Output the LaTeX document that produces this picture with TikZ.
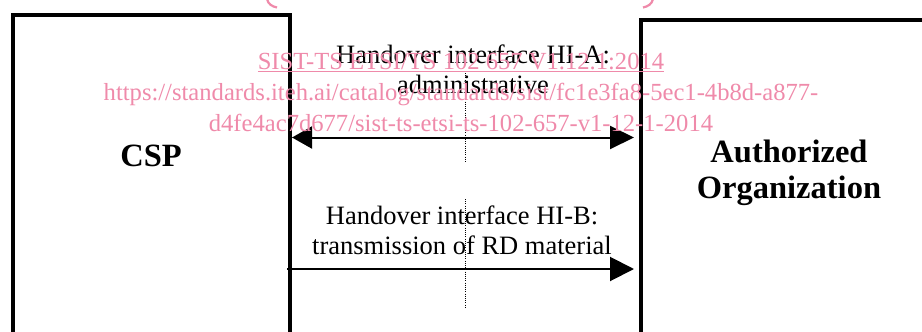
\documentclass[tikz,border=0pt]{standalone}
\usepackage{fontspec}
\setmainfont{Liberation Serif}
\usetikzlibrary{arrows.meta}
\definecolor{wmpink}{RGB}{239,138,170}
\begin{document}
\begin{tikzpicture}[x=1pt,y=-1pt,
  box/.style={draw, line width=4pt, anchor=north west, inner sep=0pt, outer sep=0pt},
  lbl/.style={align=center, inner sep=0pt, font=\fontsize{26.5}{30}\selectfont},
  title/.style={align=center, inner sep=0pt, font=\bfseries\fontsize{32.5}{35.5}\selectfont},
  conn/.style={draw, line width=2pt},
  tipL/.style={Triangle[length=21pt,width=22pt]},
  dotline/.style={line width=1pt, dash pattern=on 1pt off 1.2pt},
  wm/.style={text=wmpink, inner sep=0pt, font=\fontsize{24.6}{31}\selectfont}]
\useasboundingbox (0,0) rectangle (922,332);
\clip (0,0) rectangle (922,332);

% boxes
\node[box, minimum width=277pt, minimum height=405pt] (csp) at (13,15) {};
\node[box, minimum width=320pt, minimum height=400pt] (ao) at (641,19.5) {};

% box titles
\node[title] (cspT) at (151,156) {CSP};
\node[title] (aoT) at (789,173) {Authorized\\Organization};

% interface labels
\node[lbl] (hiA) at (473,69) {Handover interface HI-A:\\administrative};
\node[lbl] (hiB) at (462,230) {Handover interface HI-B:\\transmission of RD material};

% arrows
\coordinate (aY) at (0,137.5);
\coordinate (bY) at (0,269);
\draw[conn, {Triangle[length=20pt,width=22pt]}-{Triangle[length=24pt,width=23pt]}]
  ([xshift=2pt]csp.east |- aY) -- ([xshift=-7pt]ao.west |- aY);
\draw[conn, -{Triangle[length=24pt,width=24pt]}]
  ([xshift=-3pt]csp.east |- bY) -- ([xshift=-7pt]ao.west |- bY);

% dotted interface line
\coordinate (d1) at (465,73);
\coordinate (d2) at (465,163);
\coordinate (d3) at (465,199);
\coordinate (d4) at (465,308);
\draw[dotline] (d1) -- (d2);
\draw[dotline] (d3) -- (d4);

% watermark
\node[wm, anchor=base] (wm1) at (461,69.5) {\underline{SIST-TS ETSI/TS 102 657 V1.12.1:2014}};
\node[wm, anchor=base] (wm2) at (461,100) {https://standards.iteh.ai/catalog/standards/sist/fc1e3fa8-5ec1-4b8d-a877-};
\node[wm, anchor=base] (wm3) at (461,131) {d4fe4ac7d677/sist-ts-etsi-ts-102-657-v1-12-1-2014};
\draw[wmpink, line width=2.2pt] (267,-1) .. controls (268,4) and (272,6.5) .. (277,7.5);
\draw[wmpink, line width=2.2pt] (653,-1) .. controls (652,4) and (648,6.5) .. (643,7.5);
\end{tikzpicture}
\end{document}
